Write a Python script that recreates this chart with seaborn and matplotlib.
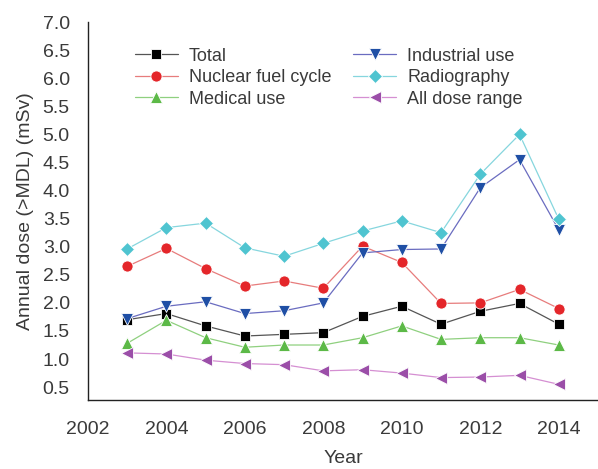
import numpy as np
import pandas as pd
import matplotlib
matplotlib.use("Agg")
import matplotlib.pyplot as plt
import seaborn as sns

# ------------------------------
# data
# ------------------------------
years = [2003, 2004, 2005, 2006, 2007, 2008, 2009, 2010, 2011, 2012, 2013, 2014]

total = [1.70, 1.81, 1.59, 1.41, 1.44, 1.47, 1.76, 1.94, 1.62, 1.85, 1.99, 1.62]
nuclear = [2.65, 2.97, 2.61, 2.30, 2.39, 2.26, 3.01, 2.72, 1.99, 2.00, 2.24, 1.90]
medical = [1.28, 1.69, 1.38, 1.21, 1.25, 1.25, 1.38, 1.59, 1.35, 1.38, 1.38, 1.25]
industrial = [1.72, 1.94, 2.02, 1.81, 1.86, 2.00, 2.89, 2.95, 2.96, 4.05, 4.55, 3.30]
radiography = [2.96, 3.34, 3.42, 2.98, 2.83, 3.06, 3.28, 3.46, 3.25, 4.29, 5.00, 3.49]
all_dose = [1.11, 1.09, 0.98, 0.92, 0.90, 0.79, 0.81, 0.75, 0.67, 0.68, 0.71, 0.55]

series = {
    "Total": total,
    "Nuclear fuel cycle": nuclear,
    "Medical use": medical,
    "Industrial use": industrial,
    "Radiography": radiography,
    "All dose range": all_dose,
}

# name: (marker, marker colour, line colour, marker size)
styles = {
    "Total": ("s", "#000000", "#555555", 7),
    "Nuclear fuel cycle": ("o", "#e4262a", "#e77c7c", 8),
    "Medical use": ("^", "#5cb947", "#8fd07f", 8),
    "Industrial use": ("v", "#1f4fa5", "#6a6cc0", 8),
    "Radiography": ("D", "#4fc4d0", "#86d6de", 7),
    "All dose range": ("<", "#9b4ea8", "#d58fd2", 8),
}

df = pd.DataFrame({"Year": years, **series})
long_df = df.melt(id_vars="Year", var_name="Group", value_name="Dose")

# ------------------------------
# plot
# ------------------------------
sns.set_style("white")
plt.rcParams["font.family"] = ["Liberation Sans", "DejaVu Sans"]
text_col = "#3a3a3a"

fig = plt.figure(figsize=(5.98, 4.69), dpi=100)
ax = fig.add_axes([0.147, 0.147, 0.853, 0.806])

for name in series:
    marker, mcol, lcol, ms = styles[name]
    sub = long_df[long_df["Group"] == name]
    sns.lineplot(
        data=sub, x="Year", y="Dose", ax=ax,
        color=lcol, linewidth=0.9,
        marker=marker, markersize=ms,
        markerfacecolor=mcol, markeredgecolor="white", markeredgewidth=0.6,
        label=name,
    )

ax.set_xlim(2002, 2015)
ax.set_ylim(0.27, 7.0)
ax.set_xticks(range(2002, 2015, 2))
ax.set_yticks(np.arange(0.5, 7.01, 0.5))
ax.yaxis.set_major_formatter(matplotlib.ticker.FormatStrFormatter("%.1f"))

sns.despine(ax=ax)
for s in ["left", "bottom"]:
    ax.spines[s].set_color("#222222")
    ax.spines[s].set_linewidth(1.0)

ax.tick_params(axis="x", direction="in", length=8, width=0.8,
               color="#222222", pad=15, labelsize=14, labelcolor=text_col)
ax.tick_params(axis="y", length=0, pad=13, labelsize=14, labelcolor=text_col)

ax.set_xlabel("Year", fontsize=14, color=text_col, labelpad=9)
ax.set_ylabel("Annual dose (>MDL) (mSv)", fontsize=14, color=text_col, labelpad=6)

leg = ax.legend(
    ncol=2, loc="upper left", bbox_to_anchor=(0.06, 0.975),
    frameon=False, fontsize=13, handlelength=2.4,
    columnspacing=1.2, labelspacing=0.25, handletextpad=0.6,
)
for t in leg.get_texts():
    t.set_color(text_col)

fig.savefig("out.png", dpi=100)
